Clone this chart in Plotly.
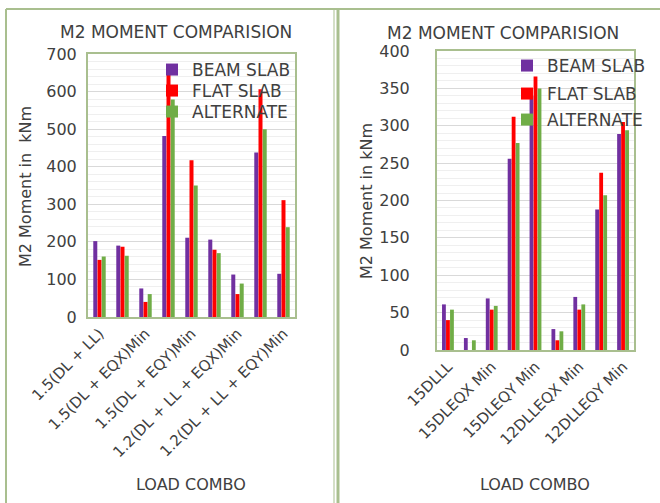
import plotly.graph_objects as go

left_categories = ["1.5(DL + LL)", "1.5(DL + EQX)Max", "1.5(DL + EQX)Min", "1.5(DL + EQY)Max",
                   "1.5(DL + EQY)Min", "1.2(DL + LL + EQX)Max", "1.2(DL + LL + EQX)Min",
                   "1.2(DL + LL + EQY)Max", "1.2(DL + LL + EQY)Min"]
left_tick_labels = ["1.5(DL + LL)", "1.5(DL + EQX)Min", "1.5(DL + EQY)Min",
                    "1.2(DL + LL + EQX)Min", "1.2(DL + LL + EQY)Min"]
left_beam = [202, 190, 76, 482, 211, 206, 113, 438, 115]
left_flat = [152, 187, 40, 644, 417, 179, 61, 606, 311]
left_alt = [161, 163, 61, 579, 350, 170, 89, 500, 239]

right_categories = ["15DLLL", "15DLEQX Max", "15DLEQX Min", "15DLEQY Max", "15DLEQY Min",
                    "12DLLEQX Max", "12DLLEQX Min", "12DLLEQY Max", "12DLLEQY Min"]
right_tick_labels = ["15DLLL", "15DLEQX Min", "15DLEQY Min", "12DLLEQX Min", "12DLLEQY Min"]
right_beam = [61, 16, 69, 256, 340, 28, 71, 188, 289]
right_flat = [40, 0, 54, 312, 366, 13, 54, 237, 305]
right_alt = [54, 13, 59, 277, 350, 25, 61, 207, 294]

series_names = ["BEAM SLAB", "FLAT SLAB", "ALTERNATE"]
colors = ["#7030A0", "#FF0000", "#70AD47"]

FONT = "DejaVu Sans"
TXT = "#404040"
FRAME = "#A9BF8F"
W, H = 660, 503

def px_x(p):
    return p / W

def px_y(p):
    return 1 - p / H

# one legend per item so that the item spacing can follow the reference
left_legend_tops = [52, 73, 94]
right_legend_tops = [48, 76, 102]

fig = go.Figure()
legend_layout = {}
for i, (name, vals, col) in enumerate(zip(series_names, [left_beam, left_flat, left_alt], colors)):
    lg = "legend" if i == 0 else f"legend{i + 1}"
    fig.add_trace(go.Bar(x=left_categories, y=vals, name=name, marker_color=col,
                         marker_line_width=0, xaxis="x", yaxis="y", legend=lg))
    legend_layout[lg] = dict(x=px_x(152), y=px_y(left_legend_tops[i]), xanchor="left", yanchor="top",
                             bgcolor="rgba(0,0,0,0)", font=dict(family=FONT, size=17, color=TXT),
                             itemwidth=30)
for i, (name, vals, col) in enumerate(zip(series_names, [right_beam, right_flat, right_alt], colors)):
    lg = f"legend{i + 4}"
    fig.add_trace(go.Bar(x=right_categories, y=vals, name=name, marker_color=col,
                         marker_line_width=0, xaxis="x2", yaxis="y2", legend=lg))
    legend_layout[lg] = dict(x=px_x(507), y=px_y(right_legend_tops[i]), xanchor="left", yanchor="top",
                             bgcolor="rgba(0,0,0,0)", font=dict(family=FONT, size=17, color=TXT),
                             itemwidth=30)

axis_common = dict(showline=True, mirror=True, linecolor=FRAME, linewidth=2,
                   tickfont=dict(family=FONT, size=15, color=TXT), zeroline=False,
                   automargin=False)

fig.update_layout(
    width=W, height=H, margin=dict(l=0, r=0, t=0, b=0, autoexpand=False),
    paper_bgcolor="white", plot_bgcolor="white",
    barmode="group", bargap=0.45, bargroupgap=0.05,
    font=dict(family=FONT, color=TXT),
    xaxis=dict(domain=[px_x(88), px_x(295)], anchor="y", tickangle=-45,
               tickmode="array", tickvals=left_tick_labels, ticktext=left_tick_labels,
               showgrid=False, ticks="", **axis_common),
    yaxis=dict(domain=[px_y(317), px_y(54)], anchor="x", range=[0, 700], dtick=100,
               showgrid=True, gridcolor="#D9D9D9", gridwidth=1, ticks="",
               ticklabelstandoff=6,
               minor=dict(dtick=20, showgrid=True, gridcolor="#EFEFEF", gridwidth=1),
               **{**axis_common, "tickfont": dict(family=FONT, size=16, color=TXT)}),
    xaxis2=dict(domain=[px_x(437), px_x(634)], anchor="y2", tickangle=-45,
                tickmode="array", tickvals=right_tick_labels, ticktext=right_tick_labels,
                showgrid=False, ticks="", **axis_common),
    yaxis2=dict(domain=[px_y(350), px_y(51)], anchor="x2", range=[0, 400], dtick=50,
                showgrid=True, gridcolor="#D9D9D9", gridwidth=1, ticks="",
                ticklabelstandoff=22,
                minor=dict(dtick=10, showgrid=True, gridcolor="#EFEFEF", gridwidth=1),
                **{**axis_common, "tickfont": dict(family=FONT, size=16, color=TXT)}),
    showlegend=True,
    **legend_layout,
)

anns = [
    dict(text="M2 MOMENT COMPARISION", x=px_x(176), y=px_y(32), size=17),
    dict(text="M2 MOMENT COMPARISION", x=px_x(503), y=px_y(33), size=17),
    dict(text="LOAD COMBO", x=px_x(191), y=px_y(484), size=16),
    dict(text="LOAD COMBO", x=px_x(535), y=px_y(484), size=16),
]
for a in anns:
    fig.add_annotation(text=a["text"], x=a["x"], y=a["y"], xref="paper", yref="paper",
                       showarrow=False, xanchor="center", yanchor="middle",
                       font=dict(family=FONT, size=a["size"], color=TXT))
fig.add_annotation(text="M2 Moment in  kNm", x=px_x(25), y=px_y(187), xref="paper", yref="paper",
                   showarrow=False, textangle=-90, xanchor="center", yanchor="middle",
                   font=dict(family=FONT, size=16, color=TXT))
fig.add_annotation(text="M2 Moment in kNm", x=px_x(366), y=px_y(201), xref="paper", yref="paper",
                   showarrow=False, textangle=-90, xanchor="center", yanchor="middle",
                   font=dict(family=FONT, size=16, color=TXT))

# outer chart frames
frame_lines = [
    (6, 9, 660, 9, 2),
    (6, 9, 6, 503, 2),
    (334, 9, 334, 503, 1),
    (338, 9, 338, 503, 3),
]
for x0, y0, x1, y1, w in frame_lines:
    fig.add_shape(type="line", xref="paper", yref="paper",
                  x0=px_x(x0), y0=px_y(y0), x1=px_x(x1), y1=px_y(y1),
                  line=dict(color=FRAME, width=w))

fig.write_html("out.html", config={"displayModeBar": False},
               post_script="document.body.style.margin='0';document.body.style.padding='0';")
